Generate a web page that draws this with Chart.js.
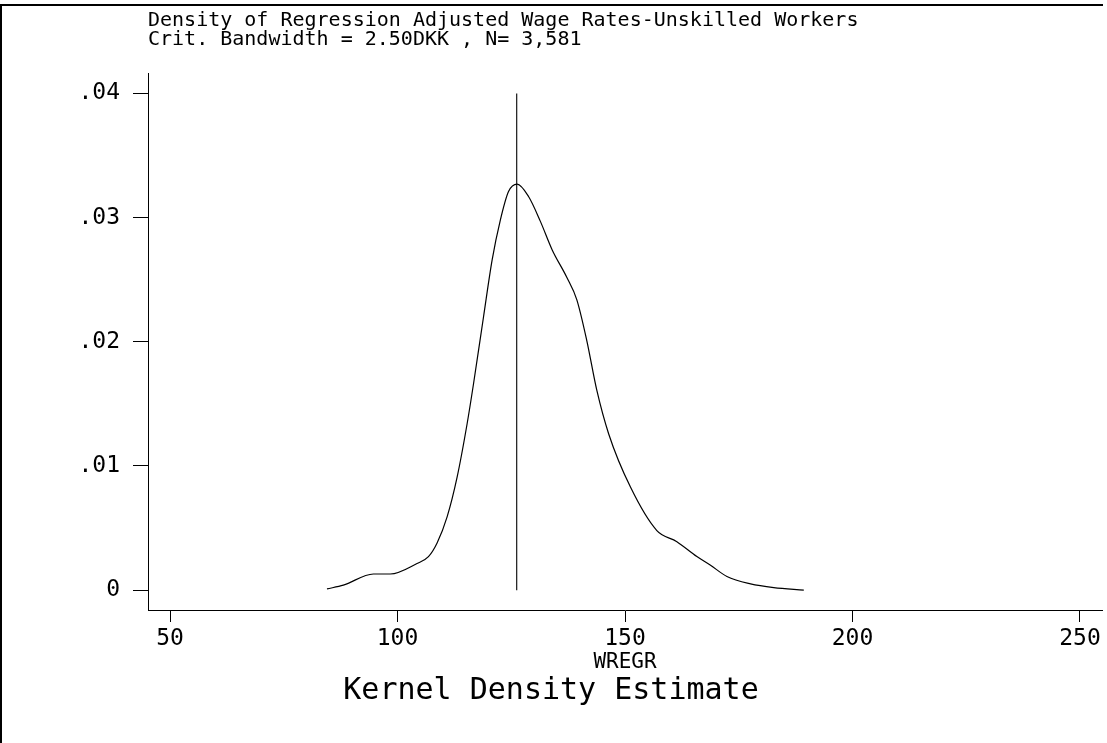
<!DOCTYPE html>
<html>
<head>
<meta charset="utf-8">
<title>Kernel Density Estimate</title>
<script src="https://cdn.jsdelivr.net/npm/chart.js@4.4.0/dist/chart.umd.min.js"></script>
<style>
  html, body { margin: 0; padding: 0; background: #fff; }
  #wrap { position: relative; width: 1107px; height: 743px; overflow: hidden; }
  #frame { position: absolute; left: 0; top: 4px; width: 1101px; height: 737px; border-top: 2px solid #000; border-left: 2px solid #000; }
  #chart { position: absolute; left: 0; top: 0; }
</style>
</head>
<body>
<div id="wrap">
  <div id="frame"></div>
  <canvas id="chart" width="1107" height="743"></canvas>
</div>
<script>
'use strict';

var titleLines = [
	'Density of Regression Adjusted Wage Rates-Unskilled Workers',
	'Crit. Bandwidth = 2.50DKK , N= 3,581'
];
var xTitle = 'WREGR';
var bottomTitle = 'Kernel Density Estimate';

// kernel density
var wage = [84.5, 88.1, 94.7, 98.4, 104.3, 106.8, 108.7, 110.9, 113.1, 115.3, 116.7, 118.9,
	120.8, 122.6, 124.4, 126.3, 128.8, 131.4, 134.0, 137.2, 139.4, 141.6, 143.8, 146.4,
	151.2, 157.0, 161.4, 165.8, 168.8, 172.4, 177.6, 182.7, 189.3];
var density = [0.0001, 0.0004, 0.0013, 0.0013, 0.00215, 0.0027, 0.0038, 0.0059, 0.0091, 0.0134, 0.0166, 0.0220,
	0.0266, 0.0298, 0.0321, 0.0327, 0.0317, 0.0297, 0.0274, 0.0252, 0.0234, 0.0201, 0.0161, 0.0126,
	0.0083, 0.0048, 0.0039, 0.0027, 0.0020, 0.0011, 0.0005, 0.0002, 0.0];

// vertical reference line
var modeWage = 126.2;
var modeSpan = [0, 0.04];

var xTicks = [50, 100, 150, 200, 250];
var yTicks = [0, 0.01, 0.02, 0.03, 0.04];
var xRange = [45.16, 254.84];
var yRange = [-0.0016, 0.04165];

var mono = 'DejaVu Sans Mono';
var ink = '#000';

function points(xs, ys) {
	var out = [];
	for (var i = 0; i < xs.length; i++) {
		out.push({x: xs[i], y: ys[i]});
	}
	return out;
}

function fixedTicks(values) {
	return function(scale) {
		scale.ticks = values.map(function(v) { return {value: v}; });
	};
}

function yLabel(v) {
	if (v === 0) { return '0'; }
	return v.toFixed(2).replace(/^0/, '');
}

var densityLine = {
	label: 'density',
	data: points(wage, density),
	showLine: true,
	borderColor: ink,
	borderWidth: 1.2,
	pointRadius: 0,
	fill: false,
	cubicInterpolationMode: 'monotone'
};

var modeLine = {
	label: 'mode',
	data: points([modeWage, modeWage], modeSpan),
	showLine: true,
	borderColor: ink,
	borderWidth: 1.1,
	pointRadius: 0,
	fill: false
};

new Chart(document.getElementById('chart'), {
	type: 'scatter',
	data: { datasets: [densityLine, modeLine] },
	options: {
		responsive: false,
		animation: false,
		devicePixelRatio: 1,
		layout: { padding: { left: 0, right: 5, top: 0, bottom: 0 } },
		plugins: {
			legend: { display: false },
			tooltip: { enabled: false },
			title: {
				display: true,
				text: titleLines,
				align: 'start',
				fullSize: false,
				color: ink,
				font: { family: mono, size: 20, weight: 'normal', lineHeight: '18.5px' },
				padding: { top: 12, bottom: 24 }
			},
			subtitle: {
				display: true,
				position: 'bottom',
				text: bottomTitle,
				color: ink,
				font: { family: mono, size: 30, weight: 'normal', lineHeight: '30px' },
				padding: { top: 1, bottom: 37 }
			}
		},
		scales: {
			x: {
				type: 'linear',
				min: xRange[0],
				max: xRange[1],
				afterBuildTicks: fixedTicks(xTicks),
				afterFit: function(scale) { scale.height = 65; },
				ticks: {
					color: ink,
					font: { family: mono, size: 23 },
					padding: 3,
					maxRotation: 0,
					autoSkip: false
				},
				grid: { drawOnChartArea: false, tickLength: 12, color: ink, tickWidth: 1 },
				border: { color: ink, width: 1 },
				title: {
					display: true,
					text: xTitle,
					color: ink,
					font: { family: mono, size: 21, lineHeight: '24px' },
					padding: { top: 0, bottom: 0 }
				}
			},
			y: {
				type: 'linear',
				min: yRange[0],
				max: yRange[1],
				afterBuildTicks: fixedTicks(yTicks),
				afterFit: function(scale) { scale.width = 148; },
				ticks: {
					color: ink,
					font: { family: mono, size: 23 },
					padding: 13,
					callback: yLabel
				},
				grid: { drawOnChartArea: false, tickLength: 15, color: ink, tickWidth: 1 },
				border: { color: ink, width: 1 }
			}
		}
	}
});
</script>
</body>
</html>
